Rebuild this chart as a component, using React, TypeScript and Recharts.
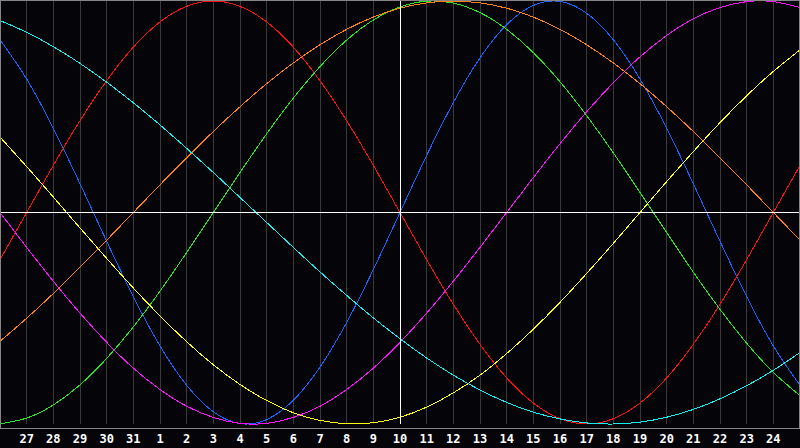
import { LineChart, Line, XAxis, YAxis, CartesianGrid, ReferenceLine } from 'recharts';

// day labels, one per column (index 0 = left edge, 15 = today)
const days = ['26', '27', '28', '29', '30', '31', '1', '2', '3', '4', '5', '6', '7', '8', '9', '10',
  '11', '12', '13', '14', '15', '16', '17', '18', '19', '20', '21', '22', '23', '24', '25'];

const physical = [0.817, 0.631, 0.398, 0.136, -0.136, -0.398, -0.631, -0.817, -0.942, -0.998, -0.979, -0.888, -0.731, -0.520, -0.270, 0,
  0.270, 0.520, 0.731, 0.888, 0.979, 0.998, 0.942, 0.817, 0.631, 0.398, 0.136, -0.136, -0.398, -0.631, -0.817];
const emotional = [-0.223, 0, 0.223, 0.434, 0.623, 0.782, 0.901, 0.975, 1.0, 0.975, 0.901, 0.782, 0.623, 0.434, 0.223, 0,
  -0.223, -0.434, -0.623, -0.782, -0.901, -0.975, -1.0, -0.975, -0.901, -0.782, -0.623, -0.434, -0.223, 0, 0.223];
const intellectual = [-0.999, -0.972, -0.910, -0.815, -0.690, -0.541, -0.372, -0.189, 0, 0.189, 0.372, 0.541, 0.690, 0.815, 0.910, 0.972,
  0.999, 0.990, 0.945, 0.866, 0.756, 0.618, 0.458, 0.282, 0.095, -0.095, -0.282, -0.458, -0.618, -0.756, -0.866];
const intuitive = [0, -0.165, -0.325, -0.476, -0.614, -0.736, -0.837, -0.916, -0.969, -0.997, -0.997, -0.969, -0.916, -0.837, -0.736, -0.614,
  -0.476, -0.325, -0.165, 0, 0.165, 0.325, 0.476, 0.614, 0.736, 0.837, 0.916, 0.969, 0.997, 0.997, 0.969];
const aesthetic = [0.357, 0.217, 0.073, -0.073, -0.217, -0.357, -0.489, -0.611, -0.720, -0.813, -0.889, -0.947, -0.983, -0.999, -0.994, -0.968,
  -0.920, -0.853, -0.769, -0.667, -0.552, -0.425, -0.288, -0.146, 0, 0.146, 0.288, 0.425, 0.552, 0.667, 0.769];
const awareness = [-0.609, -0.5, -0.383, -0.259, -0.131, 0, 0.131, 0.259, 0.383, 0.5, 0.609, 0.707, 0.793, 0.866, 0.924, 0.966,
  0.991, 1.0, 0.991, 0.966, 0.924, 0.866, 0.793, 0.707, 0.609, 0.5, 0.383, 0.259, 0.131, 0, -0.131];
const spiritual = [0.908, 0.852, 0.784, 0.705, 0.616, 0.519, 0.414, 0.303, 0.189, 0.071, -0.047, -0.165, -0.281, -0.392, -0.498, -0.597,
  -0.688, -0.769, -0.839, -0.898, -0.944, -0.976, -0.995, -1.0, -0.991, -0.968, -0.931, -0.881, -0.819, -0.746, -0.662];

const data = days.map((d, i) => ({
  i,
  day: d,
  physical: physical[i],
  emotional: emotional[i],
  intellectual: intellectual[i],
  intuitive: intuitive[i],
  aesthetic: aesthetic[i],
  awareness: awareness[i],
  spiritual: spiritual[i],
}));

const ticks = days.map((_, i) => i).slice(1, days.length - 1);

const series = [
  { key: 'physical', color: '#1464ff' },
  { key: 'emotional', color: '#ff1010' },
  { key: 'intellectual', color: '#22e822' },
  { key: 'intuitive', color: '#ff10ff' },
  { key: 'aesthetic', color: '#ffff10' },
  { key: 'awareness', color: '#ff8010' },
  { key: 'spiritual', color: '#10f0f0' },
];

const DayTick = (props: any) => {
  const { x, payload } = props;
  return (
    <text x={x} y={443} textAnchor="middle" fill="#ffffff" fontSize={12} fontWeight="bold"
      fontFamily="'DejaVu Sans Mono', monospace">
      {days[payload.value]}
    </text>
  );
};

export default function App() {
  return (
    <div style={{ position: 'absolute', left: 0, top: 0, width: 800, height: 448, background: '#050408' }}>
      <LineChart width={800} height={448} data={data} margin={{ top: 1, right: 0, left: 0, bottom: 0 }}>
        <CartesianGrid horizontal={false} stroke="#3a3a3a" shapeRendering="crispEdges" />
        <XAxis dataKey="i" type="number" domain={[0, 30]} ticks={ticks} height={24}
          axisLine={false} tickLine={false} tick={<DayTick />} interval={0} />
        <YAxis hide domain={[-1, 1]} />
        {series.map((s) => (
          <Line key={s.key} type="natural" dataKey={s.key} stroke={s.color} strokeWidth={1}
            dot={false} activeDot={false} isAnimationActive={false} shapeRendering="crispEdges" />
        ))}
        <ReferenceLine x={15} stroke="#ffffff" strokeWidth={1} shapeRendering="crispEdges" />
        <ReferenceLine y={0} stroke="#ffffff" strokeWidth={1} shapeRendering="crispEdges" />
      </LineChart>
      <div style={{ position: 'absolute', left: 0, top: 0, width: 800, height: 429, boxSizing: 'border-box',
        border: '1px solid #858585', pointerEvents: 'none' }} />
    </div>
  );
}
